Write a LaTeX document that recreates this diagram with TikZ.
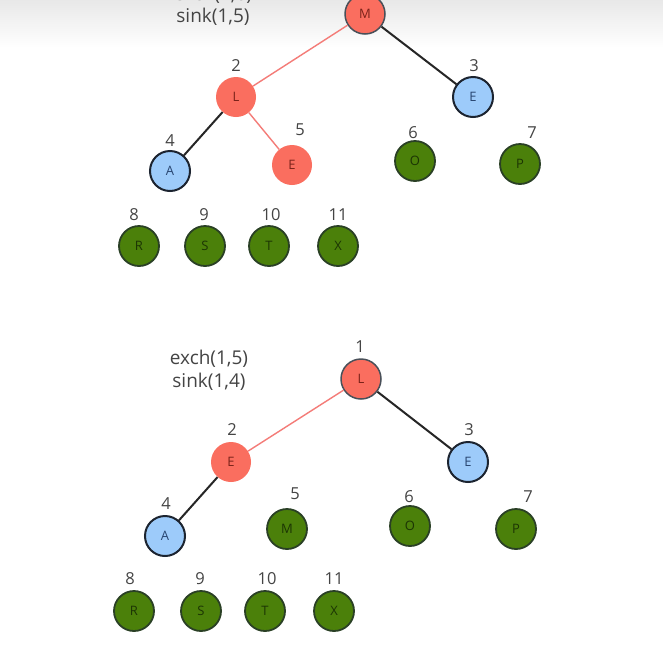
\documentclass[tikz,border=0pt]{standalone}
\usepackage{fontspec}
\setmainfont{Open Sans}
\definecolor{keyred}{HTML}{FA6E5F}
\definecolor{keyredtext}{HTML}{7A2219}
\definecolor{keyblue}{HTML}{9DCBFA}
\definecolor{keybluetext}{HTML}{284570}
\definecolor{keygreen}{HTML}{4B800A}
\definecolor{keygreentext}{HTML}{1C3504}
\definecolor{ringdark}{HTML}{1C2430}
\definecolor{idxgray}{HTML}{444444}
\definecolor{hotline}{HTML}{F47C78}
\tikzset{
  key/.style={circle, minimum size=40pt, inner sep=0pt, font=\fontsize{13}{13}\selectfont},
  redkey/.style={key, fill=keyred, text=keyredtext},
  redring/.style={redkey, draw=ringdark!80, line width=1.5pt},
  bluekey/.style={key, fill=keyblue, draw=ringdark, line width=2pt, text=keybluetext},
  greenkey/.style={key, fill=keygreen, draw=ringdark!70!keygreen, line width=1.8pt, text=keygreentext},
  idx/.style={text=idxgray, font=\fontsize{16.5}{16.5}\selectfont},
  note/.style={text=idxgray, font=\fontsize{19}{22}\selectfont},
  hot/.style={draw=hotline, line width=1.4pt},
  cold/.style={draw=black!85, line width=2pt}
}
\begin{document}
\begin{tikzpicture}[x=1pt,y=-1pt]
        \clip (0,0) rectangle (663,651);
        \fill[white] (0,0) rectangle (663,651);
        \shade[top color=black!9, bottom color=white] (0,0) rectangle (663,48);
        %% step: sink(1,5)
        \node[note] (tx) at (213,-5) {exch(1,6)};
        \node[note] (ts) at (213,17) {sink(1,5)};
        \node[redring] (tM) at (365,14) {M};
        \node[redkey] (tL) at (236,97) {L};
        \node[bluekey] (tE3) at (473,97) {E};
        \node[bluekey] (tA) at (170,171) {A};
        \node[redkey] (tE5) at (292,165) {E};
        \foreach \name/\x/\y/\t in {tO/415/161/O, tP/520/164/P, tR/139/246/R, tS/205/246/S, tT/269/246/T, tX/338/246/X}
            \node[greenkey] (\name) at (\x,\y) {\t};
        \foreach \name/\x/\y/\t in {ti2/236/66/2, ti3/474/66/3, ti4/170/141/4, ti5/300/130/5, ti6/413/133/6, ti7/532/133/7, ti8/134/215/8, ti9/204/215/9, ti10/271/215/10, ti11/338/215/11}
            \node[idx] (\name) at (\x,\y) {\t};
        \draw[hot] (tM) -- (tL);
        \draw[cold] (tM) -- (tE3);
        \draw[cold] (tL) -- (tA);
        \draw[hot] (tL) -- (tE5);
        %% step: sink(1,4)
        \node[note] (bx) at (209,359) {exch(1,5)};
        \node[note] (bs) at (209,382) {sink(1,4)};
        \node[redring] (bL) at (361,379) {L};
        \node[redkey] (bE2) at (231,462) {E};
        \node[bluekey] (bE3) at (468,462) {E};
        \node[bluekey] (bA) at (165,536) {A};
        \foreach \name/\x/\y/\t in {bM/287/529/M, bO/410/526/O, bP/516/529/P, bR/134/611/R, bS/201/611/S, bT/265/611/T, bX/334/611/X}
            \node[greenkey] (\name) at (\x,\y) {\t};
        \foreach \name/\x/\y/\t in {bi1/360/347/1, bi2/232/430/2, bi3/469/430/3, bi4/166/504/4, bi5/295/494/5, bi6/409/497/6, bi7/528/497/7, bi8/130/579/8, bi9/200/579/9, bi10/267/579/10, bi11/334/579/11}
            \node[idx] (\name) at (\x,\y) {\t};
        \draw[hot] (bL) -- (bE2);
        \draw[cold] (bL) -- (bE3);
        \draw[cold] (bE2) -- (bA);
\end{tikzpicture}
\end{document}
